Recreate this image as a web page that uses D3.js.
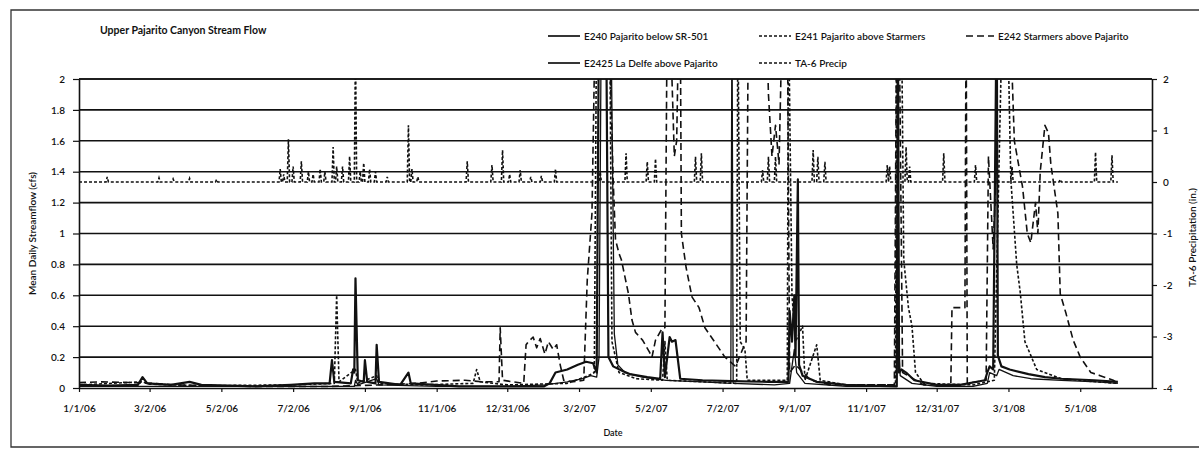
<!DOCTYPE html>
<html>
<head>
<meta charset="utf-8">
<script src="https://cdn.jsdelivr.net/npm/d3@7"></script>
<style>
  body { margin: 0; background: #fff; }
  svg text { font-family: Lato, "Liberation Sans", sans-serif; fill: #111; }
</style>
</head>
<body>
<svg id="chart" width="1199" height="451"></svg>
<script>
// ---- Data (mean daily streamflow in cfs, precipitation in inches) ----
const xTickDates = ["2006-01-01","2006-03-02","2006-05-02","2006-07-02","2006-09-01","2006-11-01",
  "2006-12-31","2007-03-02","2007-05-02","2007-07-02","2007-09-01","2007-11-01","2007-12-31",
  "2008-03-01","2008-05-01"];
const leftTicks = [0, 0.2, 0.4, 0.6, 0.8, 1, 1.2, 1.4, 1.6, 1.8, 2];
const rightTicks = [-4, -3, -2, -1, 0, 1, 2];

// E240 Pajarito below SR-501
const e240 = [
  ["2006-01-01",0.02],["2006-01-25",0.015],["2006-02-20",0.02],["2006-02-24",0.07],["2006-02-28",0.03],
  ["2006-03-20",0.02],["2006-04-05",0.04],["2006-04-15",0.02],["2006-05-31",0.01],["2006-06-30",0.02],
  ["2006-07-20",0.03],["2006-08-02",0.03],["2006-08-04",0.18],["2006-08-06",0.04],["2006-08-20",0.03],
  ["2006-08-22",0.12],["2006-08-23",0.1],["2006-08-24",0.71],["2006-08-26",0.05],["2006-08-31",0.04],
  ["2006-09-01",0.18],["2006-09-03",0.04],["2006-09-10",0.03],["2006-09-11",0.28],["2006-09-13",0.04],
  ["2006-10-01",0.02],["2006-10-08",0.1],["2006-10-10",0.03],["2006-11-20",0.01],["2006-12-31",0.01],
  ["2007-01-31",0.01],["2007-02-05",0.03],["2007-02-10",0.1],["2007-02-20",0.12],["2007-03-01",0.15],
  ["2007-03-08",0.17],["2007-03-14",0.16],["2007-03-17",0.1],["2007-03-19",2.5],["2007-03-25",2.5],
  ["2007-03-27",0.2],["2007-03-31",0.14],["2007-04-08",0.11],["2007-04-14",0.09],["2007-04-29",0.07],
  ["2007-05-10",0.06],["2007-05-12",0.36],["2007-05-14",0.07],["2007-05-18",0.33],["2007-05-20",0.3],
  ["2007-05-23",0.31],["2007-05-27",0.06],["2007-06-15",0.05],["2007-07-10",0.045],["2007-08-10",0.04],
  ["2007-08-27",0.04],["2007-08-28",0.5],["2007-08-30",0.3],["2007-09-01",0.6],["2007-09-02",0.2],
  ["2007-09-04",1.35],["2007-09-05",0.15],["2007-09-08",0.08],["2007-09-20",0.04],["2007-10-15",0.02],
  ["2007-11-27",0.01],["2007-11-28",2.5],["2007-11-29",0.1],["2007-12-01",0.12],["2007-12-05",0.1],
  ["2007-12-12",0.05],["2007-12-31",0.02],["2008-01-20",0.02],["2008-02-10",0.05],["2008-02-12",0.1],
  ["2008-02-14",0.14],["2008-02-17",0.12],["2008-02-20",2.5],["2008-02-21",0.21],["2008-02-24",0.14],
  ["2008-03-02",0.12],["2008-03-18",0.09],["2008-04-01",0.07],["2008-04-15",0.06],["2008-05-13",0.05],
  ["2008-06-02",0.04]
];

// E2425 La Delfe above Pajarito
const e2425 = [
  ["2006-01-01",0.01],["2006-03-01",0.01],["2006-06-30",0.01],["2006-08-23",0.01],["2006-08-24",0.05],
  ["2006-08-26",0.02],["2006-09-11",0.06],["2006-09-13",0.02],["2006-11-01",0.01],["2006-12-31",0.01],
  ["2007-02-01",0.02],["2007-02-20",0.04],["2007-03-05",0.06],["2007-03-12",0.08],["2007-03-17",0.07],
  ["2007-03-19",0.2],["2007-03-21",2.5],["2007-03-29",2.5],["2007-04-01",0.35],["2007-04-04",0.15],
  ["2007-04-10",0.1],["2007-04-25",0.07],["2007-05-15",0.05],["2007-06-15",0.04],["2007-07-09",0.03],
  ["2007-07-10",2.5],["2007-07-11",0.03],["2007-08-15",0.02],["2007-08-28",0.03],["2007-09-01",0.25],
  ["2007-09-03",0.1],["2007-09-10",0.03],["2007-10-15",0.01],["2007-11-27",0.01],["2007-11-28",0.4],
  ["2007-11-30",0.08],["2007-12-10",0.03],["2007-12-31",0.01],["2008-01-31",0.01],["2008-02-12",0.03],
  ["2008-02-14",0.1],["2008-02-20",0.08],["2008-02-22",0.12],["2008-03-05",0.08],["2008-03-20",0.06],
  ["2008-04-15",0.05],["2008-05-15",0.04],["2008-06-02",0.03]
];

// E241 Pajarito above Starmers
const e241 = [
  ["2006-01-01",0.02],["2006-02-24",0.04],["2006-03-01",0.025],["2006-04-15",0.015],["2006-07-01",0.02],
  ["2006-08-06",0.03],["2006-08-08",0.6],["2006-08-10",0.04],["2006-08-24",0.12],["2006-08-26",0.03],
  ["2006-09-11",0.08],["2006-09-13",0.03],["2006-10-20",0.02],["2006-12-02",0.03],["2006-12-05",0.12],
  ["2006-12-08",0.04],["2006-12-31",0.02],["2007-02-20",0.03],["2007-03-10",0.08],["2007-03-15",0.1],
  ["2007-03-17",2.5],["2007-03-28",2.5],["2007-03-30",0.3],["2007-04-05",0.1],["2007-04-20",0.06],
  ["2007-05-12",0.05],["2007-05-14",0.3],["2007-05-16",0.05],["2007-06-15",0.04],["2007-07-14",0.03],
  ["2007-07-15",2.5],["2007-07-17",0.3],["2007-07-21",0.25],["2007-07-23",0.05],["2007-08-26",0.05],
  ["2007-08-27",2.5],["2007-08-30",0.6],["2007-09-02",0.3],["2007-09-08",0.4],["2007-09-10",0.05],
  ["2007-09-20",0.28],["2007-09-23",0.05],["2007-10-15",0.02],["2007-11-26",0.02],["2007-11-27",2.5],
  ["2007-12-01",2.5],["2007-12-03",0.83],["2007-12-07",0.52],["2007-12-10",0.4],["2007-12-13",0.1],
  ["2007-12-20",0.03],["2008-01-31",0.02],["2008-02-18",0.05],["2008-02-25",2.5],["2008-02-29",2.5],
  ["2008-03-03",1.35],["2008-03-08",0.8],["2008-03-11",0.62],["2008-03-15",0.3],["2008-03-25",0.12],
  ["2008-04-15",0.06],["2008-05-15",0.04],["2008-06-02",0.03]
];

// E242 Starmers above Pajarito
const e242 = [
  ["2006-01-01",0.035],["2006-01-20",0.04],["2006-02-15",0.035],["2006-03-05",0.03],["2006-03-25",0.02],
  ["2006-04-20",0.015],["2006-06-01",0.01],["2006-08-01",0.01],["2006-09-15",0.02],["2006-10-15",0.03],
  ["2006-11-01",0.045],["2006-11-25",0.05],["2006-12-10",0.04],["2006-12-24",0.04],["2006-12-25",0.39],
  ["2006-12-27",0.05],["2007-01-14",0.03],["2007-01-16",0.28],["2007-01-18",0.3],["2007-01-22",0.33],
  ["2007-01-25",0.26],["2007-01-28",0.32],["2007-02-01",0.22],["2007-02-04",0.3],["2007-02-08",0.25],
  ["2007-02-11",0.28],["2007-02-14",0.15],["2007-02-17",0.05],["2007-02-25",0.04],["2007-03-06",0.05],
  ["2007-03-09",0.7],["2007-03-13",1.13],["2007-03-16",2.5],["2007-03-27",2.5],["2007-03-31",1.35],
  ["2007-04-02",0.96],["2007-04-05",0.87],["2007-04-07",0.83],["2007-04-13",0.61],["2007-04-16",0.44],
  ["2007-04-19",0.36],["2007-04-25",0.31],["2007-05-01",0.23],["2007-05-03",0.2],["2007-05-06",0.31],
  ["2007-05-12",0.39],["2007-05-14",0.39],["2007-05-16",2.5],["2007-05-18",2.5],["2007-05-22",1.5],
  ["2007-05-24",1.6],["2007-05-26",2.5],["2007-05-27",2.5],["2007-05-28",1.0],["2007-06-01",0.78],
  ["2007-06-06",0.59],["2007-06-12",0.52],["2007-06-17",0.39],["2007-06-26",0.29],["2007-07-04",0.2],
  ["2007-07-13",0.14],["2007-07-19",0.25],["2007-07-22",0.3],["2007-07-24",2.5],["2007-08-08",2.5],
  ["2007-08-10",1.9],["2007-08-13",1.5],["2007-08-16",1.7],["2007-08-19",1.45],["2007-08-22",2.5],
  ["2007-08-26",2.5],["2007-08-28",0.1],["2007-09-02",0.15],["2007-09-15",0.05],["2007-10-01",0.02],
  ["2007-11-25",0.02],["2007-11-27",2.5],["2007-11-29",2.5],["2007-12-02",0.1],["2007-12-20",0.02],
  ["2008-01-12",0.02],["2008-01-13",0.52],["2008-01-24",0.52],["2008-01-25",2.5],["2008-01-26",0.03],
  ["2008-02-11",0.05],["2008-02-13",1.5],["2008-02-17",0.9],["2008-02-19",1.3],["2008-02-21",2.5],
  ["2008-03-02",2.5],["2008-03-06",1.6],["2008-03-13",1.3],["2008-03-17",1.0],["2008-03-20",0.94],
  ["2008-03-24",1.2],["2008-03-26",1.0],["2008-03-28",1.4],["2008-04-01",1.7],["2008-04-04",1.65],
  ["2008-04-06",1.45],["2008-04-12",1.13],["2008-04-14",0.61],["2008-04-19",0.48],["2008-04-25",0.31],
  ["2008-05-01",0.2],["2008-05-10",0.1],["2008-05-18",0.08],["2008-05-29",0.05],["2008-06-02",0.03]
];

// TA-6 Precip: rain days (inches); dry days are 0
const precipDays = [
  ["2006-01-25",0.1],["2006-03-10",0.08],["2006-03-22",0.06],["2006-04-05",0.07],["2006-04-28",0.05],
  ["2006-06-21",0.25],["2006-06-24",0.15],["2006-06-28",0.83],["2006-07-02",0.3],["2006-07-09",0.4],
  ["2006-07-15",0.2],["2006-07-19",0.15],["2006-07-25",0.25],["2006-07-29",0.2],["2006-08-05",0.68],
  ["2006-08-08",0.3],["2006-08-13",0.3],["2006-08-19",0.5],["2006-08-24",2.6],["2006-08-28",0.2],
  ["2006-08-31",0.37],["2006-09-05",0.25],["2006-09-10",0.2],["2006-09-20",0.1],["2006-10-08",1.1],
  ["2006-10-11",0.25],["2006-10-16",0.1],["2006-11-27",0.4],["2006-12-18",0.33],["2006-12-27",0.62],
  ["2007-01-02",0.15],["2007-01-11",0.23],["2007-01-20",0.1],["2007-01-29",0.12],["2007-02-10",0.25],
  ["2007-03-20",0.2],["2007-04-11",0.56],["2007-04-29",0.39],["2007-05-06",0.45],["2007-06-09",0.49],
  ["2007-06-14",0.56],["2007-08-05",0.23],["2007-08-10",0.49],["2007-08-16",0.49],["2007-09-17",0.62],
  ["2007-09-21",0.49],["2007-09-27",0.39],["2007-11-19",0.33],["2007-11-21",0.3],["2007-12-05",0.68],
  ["2007-12-08",0.3],["2008-01-06",0.56],["2008-02-02",0.33],["2008-03-04",0.3],["2008-04-14",0.05],
  ["2008-05-14",0.58],["2008-05-28",0.52]
];

// ---- Layout ----
const svg = d3.select("#chart");
const W = 1199, H = 451;
const pLeft = 79, pRight = 1152, pTop = 79, pBottom = 388;
const parse = d3.timeParse("%Y-%m-%d");

const x = d3.scaleTime().domain([parse("2006-01-01"), parse("2008-07-01")]).range([pLeft, pRight]);
const yL = d3.scaleLinear().domain([0, 2]).range([pBottom, pTop]);
const yR = d3.scaleLinear().domain([-4, 2]).range([pBottom, pTop]);

svg.append("rect").attr("width", W).attr("height", H).attr("fill", "#fff");

// outer chart frame
svg.append("path")
  .attr("d", `M1205,10 L11,10 L11,447 L1205,447`)
  .attr("fill", "none").attr("stroke", "#333").attr("stroke-width", 1.3);

// title
svg.append("text").attr("x", 100).attr("y", 34)
  .attr("font-size", 10.5).attr("font-weight", "bold").text("Upper Pajarito Canyon Stream Flow");

// gridlines
svg.append("g").selectAll("line").data(leftTicks.filter(d => d > 0)).join("line")
  .attr("x1", pLeft).attr("x2", pRight)
  .attr("y1", d => yL(d)).attr("y2", d => yL(d))
  .attr("stroke", "#111").attr("stroke-width", 1.6);

// axes
const fmtL = d3.format(".1~f");
const gL = svg.append("g").attr("transform", `translate(${pLeft},0)`)
  .call(d3.axisLeft(yL).tickValues(leftTicks).tickFormat(fmtL).tickSize(6).tickSizeOuter(0).tickPadding(8));
const gR = svg.append("g").attr("transform", `translate(${pRight},0)`)
  .call(d3.axisRight(yR).tickValues(rightTicks).tickFormat(d => String(d)).tickSize(5).tickSizeOuter(0).tickPadding(6));
const gX = svg.append("g").attr("transform", `translate(0,${pBottom})`)
  .call(d3.axisBottom(x).tickValues(xTickDates.map(parse)).tickFormat(d3.timeFormat("%-m/%-d/%y"))
    .tickSize(4).tickSizeOuter(0).tickPadding(13));
[gL, gR, gX].forEach(g => {
  g.selectAll("path.domain").attr("stroke", "#111").attr("stroke-width", 1.6);
  g.selectAll(".tick line").attr("stroke", "#111").attr("stroke-width", 1.2);
  g.selectAll(".tick text").attr("font-size", 10).attr("font-weight", 600)
    .attr("font-family", "Lato, sans-serif").attr("fill", "#111");
});

// top frame line of plot
svg.append("line").attr("x1", pLeft).attr("x2", pRight).attr("y1", pTop).attr("y2", pTop)
  .attr("stroke", "#111").attr("stroke-width", 1.6);

// axis titles
svg.append("text").attr("transform", `translate(36,${(pTop + pBottom) / 2}) rotate(-90)`)
  .attr("text-anchor", "middle").attr("font-size", 10).attr("font-weight", 600).text("Mean Daily Streamflow (cfs)");
svg.append("text").attr("transform", `translate(1196,${(pTop + pBottom) / 2 + 4}) rotate(-90)`)
  .attr("text-anchor", "middle").attr("font-size", 10).attr("font-weight", 600).text("TA-6 Precipitation (in.)");
svg.append("text").attr("x", 613).attr("y", 436).attr("text-anchor", "middle")
  .attr("font-size", 9).attr("font-weight", 600).text("Date");

// clip region for the data
svg.append("clipPath").attr("id", "plotclip").append("rect")
  .attr("x", pLeft).attr("y", pTop).attr("width", pRight - pLeft).attr("height", pBottom - pTop);

const plot = svg.append("g").attr("clip-path", "url(#plotclip)");

// build daily precipitation series (0 on dry days)
const rainMap = new Map(precipDays.map(([d, v]) => [d, v]));
const fmtDay = d3.timeFormat("%Y-%m-%d");
const precip = d3.timeDay.range(parse("2006-01-01"), parse("2008-06-03"))
  .map(d => [d, rainMap.get(fmtDay(d)) || 0]);

const lineL = d3.line().x(d => x(parse(d[0]))).y(d => yL(d[1]));
const lineR = d3.line().x(d => x(d[0])).y(d => yR(d[1]));

const styles = {
  e240:  { dash: null,  w: 2.2 },
  e2425: { dash: null,  w: 1.3 },
  e241:  { dash: "3,2", w: 1.6 },
  e242:  { dash: "7,4", w: 1.6 },
  precip:{ dash: "3,2", w: 1.6 }
};

plot.append("path").attr("d", lineR(precip)).attr("fill", "none")
  .attr("stroke", "#111").attr("stroke-width", styles.precip.w).attr("stroke-dasharray", styles.precip.dash);
[[e242, "e242"], [e241, "e241"], [e2425, "e2425"], [e240, "e240"]].forEach(([data, key]) => {
  plot.append("path").attr("d", lineL(data)).attr("fill", "none")
    .attr("stroke", "#111").attr("stroke-width", styles[key].w)
    .attr("stroke-dasharray", styles[key].dash).attr("stroke-linejoin", "round");
});

// legend
const legend = [
  { key: "e240",  label: "E240 Pajarito below SR-501",     x: 548, y: 36 },
  { key: "e241",  label: "E241 Pajarito above Starmers",   x: 759, y: 36 },
  { key: "e242",  label: "E242 Starmers above Pajarito",   x: 966, y: 36 },
  { key: "e2425", label: "E2425 La Delfe above Pajarito",  x: 548, y: 63 },
  { key: "precip",label: "TA-6 Precip",                    x: 759, y: 63 }
];
const lg = svg.append("g");
legend.forEach(it => {
  const len = it.key === "e242" ? 28 : 32;
  lg.append("line").attr("x1", it.x).attr("x2", it.x + len).attr("y1", it.y).attr("y2", it.y)
    .attr("stroke", "#111").attr("stroke-width", it.key === "e240" || it.key === "e2425" ? 1.7 : 1.5)
    .attr("stroke-dasharray", styles[it.key].dash);
  lg.append("text").attr("x", it.x + len + 4).attr("y", it.y + 3.5)
    .attr("font-size", 10).attr("font-weight", 600).text(it.label);
});
</script>
</body>
</html>
